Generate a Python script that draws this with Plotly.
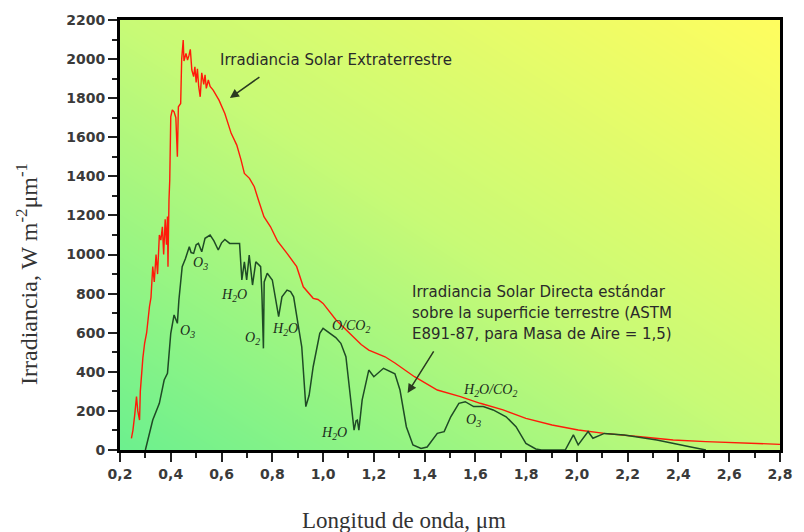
import plotly.graph_objects as go

# Extraterrestrial irradiance (red)
ext_x = [0.245, 0.251, 0.258, 0.265, 0.270, 0.277, 0.280, 0.284, 0.290, 0.297, 0.305, 0.316, 0.322,
         0.329, 0.335, 0.342, 0.348, 0.355, 0.361, 0.367, 0.372, 0.378, 0.383, 0.387, 0.389, 0.393,
         0.396, 0.400, 0.406, 0.413, 0.420, 0.426, 0.430, 0.439, 0.443, 0.449, 0.452, 0.460, 0.466,
         0.472, 0.477, 0.483, 0.490, 0.495, 0.500, 0.505, 0.510, 0.516, 0.522, 0.530, 0.535, 0.540,
         0.548, 0.555, 0.567, 0.590, 0.613, 0.638, 0.660, 0.677, 0.690, 0.710, 0.729, 0.745, 0.767,
         0.793, 0.820, 0.858, 0.896, 0.922, 0.961, 0.980, 1.000, 1.051, 1.103, 1.150, 1.180, 1.244,
         1.283, 1.360, 1.450, 1.541, 1.619, 1.709, 1.799, 1.902, 2.005, 2.108, 2.250, 2.379, 2.508,
         2.637, 2.800]
ext_y = [60, 102, 180, 273, 200, 153, 300, 392, 470, 546, 600, 733, 780,
         938, 860, 1000, 900, 1100, 1074, 1142, 1000, 1180, 1050, 1194, 938, 1279,
         1381, 1705, 1740, 1730, 1700, 1500, 1756, 1773, 2000, 2097, 1990, 2029, 1995,
         2020, 2050, 1944, 1910, 1960, 1880, 1950, 1860, 1807, 1930, 1870, 1920, 1850,
         1893, 1860, 1841, 1790, 1722, 1620, 1560, 1483, 1415, 1390, 1347, 1280, 1194,
         1142, 1070, 1006, 938, 835, 776, 770, 750, 665, 597, 540, 511, 477,
         445, 375, 307, 273, 239, 205, 162, 128, 102, 85, 68, 51, 43,
         37, 29]

# Direct terrestrial irradiance AM 1.5 (dark green)
sfc_x = [0.300, 0.315, 0.329, 0.355, 0.374, 0.387, 0.400, 0.413, 0.420, 0.426, 0.432, 0.445, 0.458,
         0.473, 0.480, 0.490, 0.500, 0.509, 0.522, 0.535, 0.555, 0.570, 0.587, 0.600, 0.613, 0.632,
         0.671, 0.680, 0.690, 0.699, 0.709, 0.722, 0.735, 0.745, 0.754, 0.759, 0.762, 0.765, 0.768,
         0.780, 0.800, 0.815, 0.825, 0.838, 0.858, 0.872, 0.884, 0.903, 0.916, 0.932, 0.945, 0.961,
         0.987, 1.000, 1.025, 1.050, 1.070, 1.090, 1.109, 1.122, 1.130, 1.135, 1.141, 1.154, 1.180,
         1.200, 1.238, 1.283, 1.303, 1.328, 1.354, 1.386, 1.410, 1.450, 1.477, 1.503, 1.535, 1.560,
         1.593, 1.631, 1.670, 1.721, 1.760, 1.799, 1.838, 1.860, 1.954, 1.986, 2.005, 2.044, 2.063,
         2.108, 2.186, 2.315, 2.444, 2.508]
sfc_y = [0, 80, 153, 239, 358, 392, 597, 691, 670, 648, 767, 938, 980,
         1040, 1010, 1006, 1050, 1057, 1014, 1083, 1100, 1070, 1023, 1060, 1077, 1057,
         1057, 870, 963, 870, 997, 844, 963, 950, 938, 800, 528, 520, 860,
         904, 870, 760, 682, 784, 818, 810, 784, 631, 528, 222, 280, 426,
         597, 622, 597, 575, 546, 477, 256, 102, 150, 153, 102, 256, 409,
         375, 418, 390, 307, 119, 26, 8, 15, 85, 94, 170, 239, 247,
         222, 222, 205, 170, 119, 34, 5, 0, 0, 77, 26, 94, 60,
         85, 77, 51, 17, 0]

x_tickvals = [0.2, 0.4, 0.6, 0.8, 1.0, 1.2, 1.4, 1.6, 1.8, 2.0, 2.2, 2.4, 2.6, 2.8]
x_ticktext = ["0,2", "0,4", "0,6", "0,8", "1,0", "1,2", "1,4", "1,6", "1,8", "2,0", "2,2", "2,4", "2,6", "2,8"]
y_tickvals = [0, 200, 400, 600, 800, 1000, 1200, 1400, 1600, 1800, 2000, 2200]

# molecule labels: (text, x, y)
mol_labels = [("O<sub>3</sub>", 0.516, 955), ("H<sub>2</sub>O", 0.651, 793), ("O<sub>3</sub>", 0.464, 605),
              ("O<sub>2</sub>", 0.722, 573), ("H<sub>2</sub>O", 0.851, 614), ("O/CO<sub>2</sub>", 1.109, 631),
              ("H<sub>2</sub>O", 1.044, 85), ("H<sub>2</sub>O/CO<sub>2</sub>", 1.657, 307), ("O<sub>3</sub>", 1.593, 153)]

fig = go.Figure()

# gradient background
fig.add_trace(go.Heatmap(
    x=[0.2, 2.8], y=[0, 2200], z=[[0, 0.5], [0.5, 1]], zsmooth="best", showscale=False,
    hoverinfo="skip",
    colorscale=[[0, "rgb(108,240,142)"], [0.5, "rgb(200,250,118)"], [1, "rgb(255,253,95)"]],
    zmin=0, zmax=1))

fig.add_trace(go.Scatter(x=ext_x, y=ext_y, mode="lines", line=dict(color="#ff1a0a", width=1.4),
                         showlegend=False))
fig.add_trace(go.Scatter(x=sfc_x, y=sfc_y, mode="lines", line=dict(color="#1f4a25", width=1.5),
                         showlegend=False))

ann = []
for t, x, y in mol_labels:
    ann.append(dict(x=x, y=y, xref="x", yref="y", text="<i>" + t + "</i>", showarrow=False,
                    font=dict(family="Liberation Serif", size=14, color="#1a2a1a")))

lab_font = dict(family="DejaVu Sans", size=15, color="#2a2a2a")
ann.append(dict(x=0.587, y=1995, xref="x", yref="y", text="Irradiancia Solar Extraterrestre",
                showarrow=False, xanchor="left", font=lab_font))
ann.append(dict(x=0.633, y=1801, xref="x", yref="y", text="", showarrow=True, arrowhead=2,
                arrowsize=1.2, arrowwidth=1.5, arrowcolor="#2a3a20", ax=31, ay=-22))
for i, line in enumerate(["Irradiancia Solar Directa estándar",
                          "sobre la superficie terrestre (ASTM",
                          "E891-87, para Masa de Aire = 1,5)"]):
    ann.append(dict(x=1.341, y=810 - i * 107, xref="x", yref="y", text=line, showarrow=False,
                    xanchor="left", font=lab_font))
ann.append(dict(x=1.333, y=292, xref="x", yref="y", text="", showarrow=True, arrowhead=2,
                arrowsize=1.2, arrowwidth=1.5, arrowcolor="#2a3a20", ax=27, ay=-43))

# axis titles
ann.append(dict(x=0.43, y=-0.163, xref="paper", yref="paper",
                text="Longitud de onda, μm", showarrow=False, yanchor="middle",
                font=dict(family="Liberation Serif", size=23, color="#333333")))
ann.append(dict(x=-0.142, y=0.41, xref="paper", yref="paper", textangle=-90,
                text="Irradiancia, W m<sup>-2</sup>μm<sup>-1</sup>", showarrow=False, xanchor="center",
                font=dict(family="Liberation Serif", size=24, color="#333333")))

tick_font = dict(family="DejaVu Sans", size=14, color="#3a3a3a", weight="bold")
fig.update_layout(
    width=804, height=532, margin=dict(l=120, r=12, t=20, b=82),
    paper_bgcolor="white", plot_bgcolor="white", showlegend=False,
    annotations=ann,
    xaxis=dict(range=[0.2, 2.8], tickvals=x_tickvals, ticktext=x_ticktext, ticks="outside",
               ticklen=9, tickwidth=2, tickcolor="#222", showgrid=False, zeroline=False,
               showline=True, linewidth=3, linecolor="black", mirror=True, tickfont=tick_font,
               minor=dict(dtick=0.1, tick0=0.1, ticks="outside", ticklen=5, tickwidth=2, tickcolor="#222"),
               fixedrange=True),
    yaxis=dict(range=[0, 2200], tickvals=y_tickvals, ticks="outside",
               ticklen=9, tickwidth=2, tickcolor="#222", showgrid=False, zeroline=False,
               showline=True, linewidth=3, linecolor="black", mirror=True, tickfont=tick_font,
               minor=dict(dtick=100, tick0=100, ticks="outside", ticklen=5, tickwidth=2, tickcolor="#222"),
               fixedrange=True),
)

fig.write_html("out.html")
